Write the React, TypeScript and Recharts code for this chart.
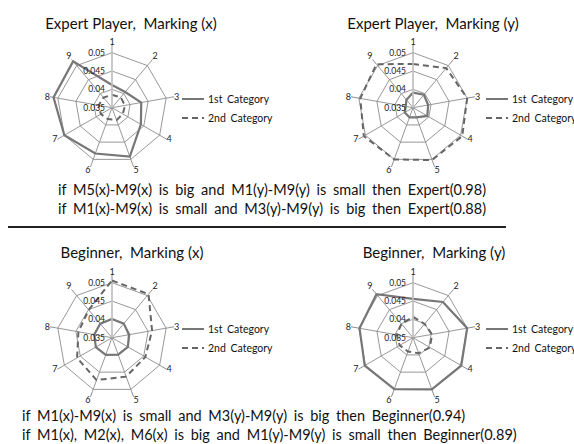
import React from 'react';
import {
  RadarChart,
  Radar,
  PolarGrid,
  PolarAngleAxis,
  PolarRadiusAxis,
  Legend,
} from 'recharts';

// marker numbers around each web
const markers = ['1', '2', '3', '4', '5', '6', '7', '8', '9'];
// the web runs from 0.035 in the middle to 0.05 on the outer ring
const AXIS_MIN = 0.035;
const AXIS_MAX = 0.05;
const radiusTicks = [0.035, 0.04, 0.045, 0.05];

// expert player, marking (x)
const expertX1st = [0.0412, 0.0406, 0.0431, 0.0441, 0.0492, 0.0483, 0.05, 0.0512, 0.0515];
const expertX2nd = [0.0385, 0.0387, 0.0386, 0.0384, 0.0386, 0.0383, 0.0385, 0.0387, 0.0386];
// expert player, marking (y)
const expertY1st = [0.0391, 0.0396, 0.0392, 0.0395, 0.0378, 0.0378, 0.0376, 0.037, 0.0378];
const expertY2nd = [0.0469, 0.0491, 0.05, 0.0505, 0.0502, 0.05, 0.0505, 0.0496, 0.0505];
// beginner, marking (x)
const beginnerX1st = [0.0401, 0.04, 0.0397, 0.04, 0.0399, 0.04, 0.0401, 0.0399, 0.04];
const beginnerX2nd = [0.0506, 0.0505, 0.0461, 0.0455, 0.0463, 0.0473, 0.046, 0.0443, 0.0449];
// beginner, marking (y)
const beginnerY1st = [0.0456, 0.0477, 0.05, 0.0502, 0.05, 0.0499, 0.0502, 0.0498, 0.0505];
const beginnerY2nd = [0.0407, 0.0399, 0.0403, 0.0403, 0.0395, 0.039, 0.0392, 0.0395, 0.0399];

const expertRules = [
  'if M5(x)-M9(x) is big and M1(y)-M9(y) is small then Expert(0.98)',
  'if M1(x)-M9(x) is small and M3(y)-M9(y) is big then Expert(0.88)',
];
const beginnerRules = [
  'if M1(x)-M9(x) is small and M3(y)-M9(y) is big then Beginner(0.94)',
  'if M1(x), M2(x), M6(x) is big and M1(y)-M9(y) is small then Beginner(0.89)',
];

const FONT = 'Lato, "Liberation Sans", sans-serif';
const GRID = '#8c8c8c';
const SOLID = '#777777';
const DASHED = '#666666';
const RING = 55; // px radius of the 0.05 ring
const LABEL_R = 63; // px radius where the marker numbers sit

// values are plotted as offsets from the centre value
const buildRows = (first: number[], second: number[]) =>
  markers.map((m, i) => ({ marker: m, first: first[i] - AXIS_MIN, second: second[i] - AXIS_MIN }));

const fmtRadius = (t: number) => String(Number((t + AXIS_MIN).toFixed(3)));

const RadiusTick = (props: any) => {
  const { x, y, payload } = props;
  return (
    <text
      x={x - 7}
      y={y}
      textAnchor="end"
      dominantBaseline="central"
      fontSize={8.5}
      fontFamily={FONT}
      fill="#222"
    >
      {fmtRadius(payload.value)}
    </text>
  );
};

const LegendBox = (props: any) => {
  const { payload = [] } = props;
  return (
    <div style={{ fontFamily: FONT, fontSize: 10.5, color: '#111' }}>
      {payload.map((entry: any, i: number) => (
        <div
          key={i}
          style={{ display: 'flex', alignItems: 'center', height: 19, whiteSpace: 'nowrap' }}
        >
          <svg width={24} height={6} style={{ marginRight: 3 }}>
            <line
              x1={1}
              y1={3}
              x2={23}
              y2={3}
              stroke={entry.color}
              strokeWidth={2}
              strokeDasharray={entry.payload?.strokeDasharray}
            />
          </svg>
          <span style={{ wordSpacing: 2 }}>{entry.value}</span>
        </div>
      ))}
    </div>
  );
};

type PanelProps = {
  first: number[];
  second: number[];
  left: number;
  top: number;
  cx: number;
  legendLeft: number;
};

const RadarPanel = ({ first, second, left, top, cx, legendLeft }: PanelProps) => {
  const data = buildRows(first, second);
  // the radius axis spans 0..largest value, so size the web so that 0.05 lands on RING
  const maxOffset = Math.max(...first, ...second) - AXIS_MIN;
  const outerRadius = (RING * maxOffset) / (AXIS_MAX - AXIS_MIN);
  return (
    <div style={{ position: 'absolute', left, top }}>
      <RadarChart
        width={287}
        height={158}
        data={data}
        cx={cx}
        cy={77.7}
        outerRadius={outerRadius}
        startAngle={90}
        endAngle={-270}
        margin={{ top: 0, right: 0, bottom: 0, left: 0 }}
      >
        <PolarGrid gridType="polygon" stroke={GRID} strokeWidth={0.9} />
        <PolarAngleAxis
          dataKey="marker"
          tick={{ fontSize: 9, fill: '#222', fontFamily: FONT }}
          tickLine={{ stroke: GRID }}
          tickSize={Math.max(2, LABEL_R - outerRadius)}
          axisLine={false}
        />
        <PolarRadiusAxis
          angle={90}
          ticks={radiusTicks.map((t) => t - AXIS_MIN)}
          axisLine={{ stroke: '#c8c8c8', strokeWidth: 1.5 }}
          tickLine={false}
          tick={<RadiusTick />}
        />
        <Radar
          name="1st  Category"
          dataKey="first"
          stroke={SOLID}
          strokeWidth={2.2}
          fill="none"
          fillOpacity={0}
          dot={false}
          isAnimationActive={false}
        />
        <Radar
          name="2nd  Category"
          dataKey="second"
          stroke={DASHED}
          strokeWidth={2}
          strokeDasharray="6 4"
          fill="none"
          fillOpacity={0}
          dot={false}
          isAnimationActive={false}
        />
        <Legend
          layout="vertical"
          align="right"
          verticalAlign="middle"
          content={<LegendBox />}
          wrapperStyle={{ left: legendLeft, top: 59, right: 'auto', bottom: 'auto', width: 'auto' }}
        />
      </RadarChart>
    </div>
  );
};

const titles = [
  { text: 'Expert Player,\u00a0 Marking (x)', x: 131, y: 23 },
  { text: 'Expert Player,\u00a0 Marking (y)', x: 433, y: 23 },
  { text: 'Beginner,\u00a0 Marking (x)', x: 132, y: 252 },
  { text: 'Beginner,\u00a0 Marking (y)', x: 434, y: 252 },
];

const ruleStyle: React.CSSProperties = {
  position: 'absolute',
  fontFamily: FONT,
  fontSize: 14.5,
  lineHeight: '20px',
  color: '#111',
  wordSpacing: 3,
  whiteSpace: 'nowrap',
};

export default function App() {
  return (
    <div
      style={{
        position: 'absolute',
        left: 0,
        top: 0,
        width: 574,
        height: 444,
        overflow: 'hidden',
        background: '#fff',
      }}
    >
      <RadarPanel first={expertX1st} second={expertX2nd} left={0} top={30} cx={112} legendLeft={181} />
      <RadarPanel first={expertY1st} second={expertY2nd} left={287} top={30} cx={126} legendLeft={198} />
      <RadarPanel first={beginnerX1st} second={beginnerX2nd} left={0} top={260} cx={112} legendLeft={181} />
      <RadarPanel first={beginnerY1st} second={beginnerY2nd} left={287} top={260} cx={126} legendLeft={198} />

      <svg width={574} height={444} style={{ position: 'absolute', left: 0, top: 0, pointerEvents: 'none' }}>
        {titles.map((t) => (
          <text
            key={t.text}
            x={t.x}
            y={t.y}
            textAnchor="middle"
            dominantBaseline="central"
            fontFamily={FONT}
            fontSize={15}
            fill="#111"
          >
            {t.text}
          </text>
        ))}
      </svg>

      {expertRules.map((r, i) => (
        <div key={r} style={{ ...ruleStyle, left: 58, top: 180 + i * 19 }}>
          {r}
        </div>
      ))}
      <div style={{ position: 'absolute', left: 8, top: 226, width: 498, height: 2, background: '#222' }} />
      {beginnerRules.map((r, i) => (
        <div key={r} style={{ ...ruleStyle, left: 22, top: 406 + i * 19 }}>
          {r}
        </div>
      ))}
    </div>
  );
}
